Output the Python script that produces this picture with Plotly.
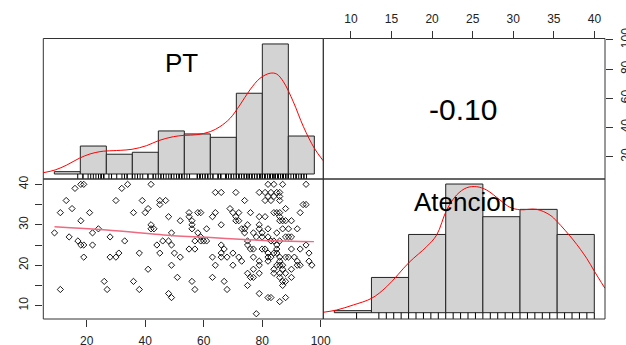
import plotly.graph_objects as go

# ---------------- data ----------------
pt = [18, 19, 16, 32, 34, 42, 13, 30, 39, 45, 47, 45, 15, 41, 40, 11, 21, 36,
      48, 18, 52, 42, 42, 43, 9, 24, 22, 49, 14, 28, 17, 18, 19, 22, 33, 44,
      46, 48, 49, 19, 28, 30, 31, 38, 45, 50, 52, 49, 41, 51, 26, 36, 11, 27,
      38, 48, 49,
      82, 84, 87, 95,
      64, 66, 71, 79, 81, 83, 85, 86,
      82, 84, 86,
      74, 81, 83, 86,
      94, 95,
      69, 88,
      55, 58, 59, 64, 70, 72, 76, 84, 85, 86, 93,
      55, 63, 71, 79, 81, 86,
      56, 71, 72, 86, 87, 88, 90,
      56, 66, 75, 79,
      56, 61, 73, 74, 79, 82, 87, 89, 92,
      58, 74, 77, 80, 85,
      59, 78, 80, 82, 88, 89, 90,
      57, 59, 60, 61, 75, 83, 84, 86,
      66, 75, 85, 95,
      55, 57, 67, 76, 77, 80, 81, 85, 90, 93,
      66, 70, 82, 84, 85, 96,
      63, 66, 68, 72, 77, 82, 83, 86, 88, 89, 91,
      73, 79, 82, 86, 92, 96,
      64, 70, 79, 85, 86, 87, 92, 93, 97,
      77, 84, 87, 90,
      75, 79, 84, 86, 88,
      63, 76, 77, 86, 90,
      56, 67, 87, 88,
      75, 87,
      57, 68,
      79,
      82, 83, 88,
      86,
      78]
atencion = [40, 40, 39, 39, 40, 40, 36, 36, 36, 36, 36, 35, 34, 34, 33, 33, 33, 33,
            32, 31, 31, 30, 29, 29, 28, 29, 28, 28, 27, 27, 26, 25, 25, 25, 26, 25,
            26, 26, 25, 22, 22, 22, 23, 23, 23, 23, 22, 20, 19, 17, 16, 16, 14, 14,
            14, 13, 12,
            40, 40, 40, 40,
            38, 38, 38, 38, 38, 38, 38, 38,
            37, 37, 37,
            36, 36, 36, 36,
            35, 35,
            34, 34,
            33, 33, 33, 33, 33, 33, 33, 33, 33, 33, 33,
            32, 32, 32, 32, 32, 32,
            31, 31, 31, 31, 31, 31, 31,
            30, 30, 30, 30,
            29, 29, 29, 29, 29, 29, 29, 29, 29,
            28, 28, 28, 28, 28,
            27, 27, 27, 27, 27, 27, 27,
            26, 26, 26, 26, 26, 26, 26, 26,
            25, 25, 25, 25,
            24, 24, 24, 24, 24, 24, 24, 24, 24, 24,
            23, 23, 23, 23, 23, 23,
            22, 22, 22, 22, 22, 22, 22, 22, 22, 22, 22,
            21, 21, 21, 21, 21, 21,
            20, 20, 20, 20, 20, 20, 20, 20, 20,
            19, 19, 19, 19,
            18, 18, 18, 18, 18,
            17, 17, 17, 17, 17,
            16, 16, 16, 16,
            15, 15,
            14, 14,
            13,
            12, 12, 12,
            11,
            8]

# histograms (relative bar heights, tallest = 1)
pt_breaks = [0, 10, 20, 30, 40, 50, 60, 70, 80, 90, 100]
pt_rel = [0.018, 0.215, 0.152, 0.167, 0.331, 0.308, 0.282, 0.621, 1.0, 0.292]
at_breaks = [5, 10, 15, 20, 25, 30, 35, 40]
at_rel = [0.016, 0.274, 0.608, 1.0, 0.746, 0.803, 0.608]

# density curves (relative)
pt_dens_x = [-4.2, 0.3, 4.8, 9.6, 13.7, 17.6, 20.1, 25.3, 29.9, 35.5, 40.0, 45.8,
             49.9, 54.8, 60.0, 63.7, 67.6, 71.4, 75.2, 79.1, 83.0, 85.5, 88.1,
             91.9, 95.8, 100.0, 103.4]
pt_dens_y = [0.010, 0.031, 0.069, 0.121, 0.154, 0.172, 0.177, 0.182, 0.190, 0.218,
             0.256, 0.287, 0.297, 0.302, 0.326, 0.364, 0.428, 0.531, 0.646, 0.736,
             0.775, 0.769, 0.710, 0.556, 0.364, 0.198, 0.102]
at_dens_x = [3.52, 5.32, 7.56, 10.03, 12.05, 15.09, 17.43, 18.78, 20.13, 21.47,
             22.82, 24.17, 25.51, 27.3, 28.65, 29.99, 32.24, 34.03, 35.01, 37.17,
             38.97, 39.99, 41.43]
at_dens_y = [0.003, 0.021, 0.06, 0.112, 0.202, 0.392, 0.513, 0.604, 0.798, 0.915,
             0.971, 0.979, 0.953, 0.876, 0.819, 0.800, 0.803, 0.759, 0.707, 0.565,
             0.423, 0.324, 0.19]

# smoother in the scatter panel
smooth_x = [9, 26.8, 49.6, 61.0, 72.4, 83.8, 97.7]
smooth_y = [29.52, 28.71, 27.30, 26.90, 26.41, 26.06, 25.83]

corr_text = "-0.10"
labels = ["PT", "Atencion"]
pt_ticks = [20, 40, 60, 80, 100]
at_ticks = [10, 15, 20, 25, 30, 35, 40]

# ---------------- layout geometry ----------------
W, H = 626, 345
X0, X1, X2 = 43.3, 323.3, 605.0
Y0, Y1, Y2 = 38.5, 179.0, 319.0
def px(v):
    return v / W
def py(v):
    return 1 - v / H

col1 = [px(X0), px(X1)]
col2 = [px(X1), px(X2)]
row1 = [py(Y1), py(Y0)]
row2 = [py(Y2), py(Y1)]

FONT = "Liberation Sans, Arial, sans-serif"
AX = "#333333"
fig = go.Figure()

# histogram PT (top-left)
pt_c = [(pt_breaks[i] + pt_breaks[i + 1]) / 2 for i in range(len(pt_rel))]
pt_w = [pt_breaks[i + 1] - pt_breaks[i] for i in range(len(pt_rel))]
fig.add_trace(go.Bar(x=pt_c, y=pt_rel, width=pt_w, xaxis="x2", yaxis="y2",
                     marker=dict(color="#D3D3D3", line=dict(color="#222222", width=1)),
                     showlegend=False, hoverinfo="skip"))
# histogram Atencion (bottom-right)
at_c = [(at_breaks[i] + at_breaks[i + 1]) / 2 for i in range(len(at_rel))]
at_w = [at_breaks[i + 1] - at_breaks[i] for i in range(len(at_rel))]
fig.add_trace(go.Bar(x=at_c, y=at_rel, width=at_w, xaxis="x3", yaxis="y3",
                     marker=dict(color="#D3D3D3", line=dict(color="#222222", width=1)),
                     showlegend=False, hoverinfo="skip"))

PT_YLO = -0.0385
AT_YLO = -0.049
# rugs
rx, ry = [], []
for v in pt:
    rx += [v, v, None]
    ry += [PT_YLO, 0, None]
fig.add_trace(go.Scatter(x=rx, y=ry, mode="lines", xaxis="x2", yaxis="y2",
                         line=dict(color="black", width=1), showlegend=False, hoverinfo="skip"))
rx, ry = [], []
for v in sorted(set(atencion)):
    rx += [v, v, None]
    ry += [AT_YLO, 0, None]
fig.add_trace(go.Scatter(x=rx, y=ry, mode="lines", xaxis="x3", yaxis="y3",
                         line=dict(color="black", width=1), showlegend=False, hoverinfo="skip"))
# density curves
fig.add_trace(go.Scatter(x=pt_dens_x, y=pt_dens_y, mode="lines", xaxis="x2", yaxis="y2",
                         line=dict(color="red", width=1, shape="spline"), showlegend=False))
fig.add_trace(go.Scatter(x=at_dens_x, y=at_dens_y, mode="lines", xaxis="x3", yaxis="y3",
                         line=dict(color="red", width=1, shape="spline"), showlegend=False))

# scatter
fig.add_trace(go.Scatter(x=pt, y=atencion, mode="markers", xaxis="x", yaxis="y",
                         marker=dict(symbol="diamond-open", size=4.8, color="black",
                                     line=dict(width=0.9, color="black")),
                         showlegend=False))
fig.add_trace(go.Scatter(x=smooth_x, y=smooth_y, mode="lines", xaxis="x", yaxis="y",
                         line=dict(color="#EE6A80", width=1.4, shape="spline"), showlegend=False))
# placeholder for upper-right axes
fig.add_trace(go.Scatter(x=[], y=[], xaxis="x4", yaxis="y4", showlegend=False))

tick_common = dict(ticks="outside", ticklen=7, tickwidth=1, tickcolor=AX,
                   showgrid=False, zeroline=False, showline=False, automargin=False,
                   tickfont=dict(family=FONT, size=12, color="#222222"))
hidden = dict(visible=False, showgrid=False, zeroline=False, automargin=False)

fig.update_layout(
    width=W, height=H, margin=dict(l=0, r=0, t=0, b=0, pad=0, autoexpand=False),
    paper_bgcolor="white", plot_bgcolor="white",
    xaxis=dict(domain=col1, anchor="y", range=[5.17, 100.9], tickmode="array",
               tickvals=pt_ticks, ticktext=[str(t) for t in pt_ticks],
               ticklabelstandoff=4, **tick_common),
    yaxis=dict(domain=row2, anchor="x", range=[6.70, 41.32], tickmode="array",
               tickvals=at_ticks,
               ticktext=[str(t) if t % 10 == 0 else "" for t in at_ticks],
               tickangle=-90, ticklabelstandoff=3, **tick_common),
    xaxis2=dict(domain=col1, anchor="y2", range=[-4.24, 103.45], **hidden),
    yaxis2=dict(domain=row1, anchor="x2", range=[PT_YLO, 1.042], **hidden),
    xaxis3=dict(domain=col2, anchor="y3", range=[3.52, 41.44], **hidden),
    yaxis3=dict(domain=row2, anchor="x3", range=[AT_YLO, 1.039], **hidden),
    xaxis4=dict(domain=col2, anchor="y4", side="top", range=[6.6, 41.3], tickmode="array",
                tickvals=at_ticks, ticktext=[str(t) for t in at_ticks],
                ticklabelstandoff=3, **tick_common),
    yaxis4=dict(domain=row1, anchor="x4", side="right", range=[4.8, 101], tickmode="array",
                tickvals=pt_ticks, ticktext=[str(t) for t in pt_ticks], tickangle=-90,
                ticklabelstandoff=3, **tick_common),
)

# panel borders
for xs in (col1, col2):
    for ys in (row1, row2):
        fig.add_shape(type="rect", xref="paper", yref="paper",
                      x0=xs[0], x1=xs[1], y0=ys[0], y1=ys[1],
                      line=dict(color=AX, width=1), fillcolor="rgba(0,0,0,0)", layer="above")

fig.add_annotation(x=px(181.7), y=py(62.8), xref="paper", yref="paper", text=labels[0],
                   showarrow=False, font=dict(family=FONT, size=26, color="black"),
                   xanchor="center", yanchor="middle")
fig.add_annotation(x=px(464), y=py(202), xref="paper", yref="paper", text=labels[1],
                   showarrow=False, font=dict(family=FONT, size=26, color="black"),
                   xanchor="center", yanchor="middle")
fig.add_annotation(x=px(463), y=py(110), xref="paper", yref="paper", text=corr_text,
                   showarrow=False, font=dict(family=FONT, size=30, color="black"),
                   xanchor="center", yanchor="middle")

fig.write_html("out.html")
